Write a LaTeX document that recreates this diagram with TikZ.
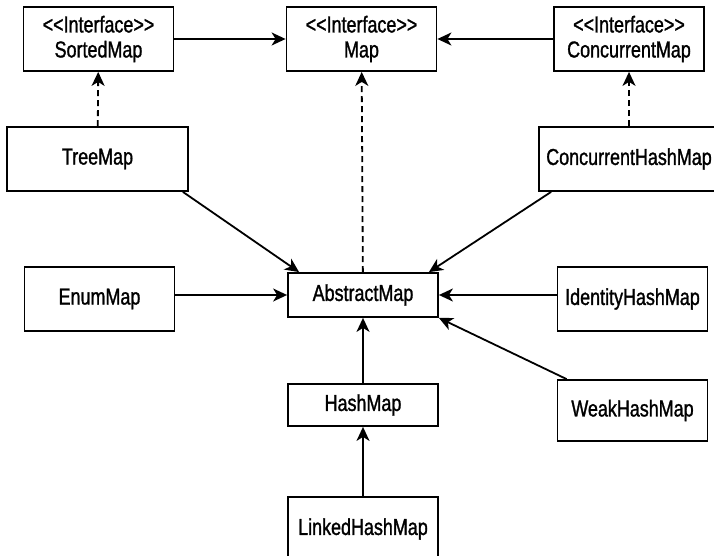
\documentclass[tikz,border=0pt]{standalone}
\usepackage{fontspec}
\setmainfont{Liberation Sans}[FakeStretch=0.78,FakeBold=1.2]
\usepackage{tikz}
\usetikzlibrary{
	arrows,arrows.meta,shapes
}
\newcommand{\iface}{<{}<Interface>{}>}
\tikzset{
	cls/.style={draw,line width=1.8pt,rectangle,inner sep=0pt,align=center,
		minimum width=150,minimum height=64,font=\fontsize{23}{25}\selectfont},
	impl/.style={dashed,dash pattern=on 6pt off 4pt}
}

\begin{document}
\begin{tikzpicture}[x=1pt,y=-1pt]
	\useasboundingbox (0,0) rectangle (714,556);
	% nodes
	\node[cls] (S) at (98.5,39) {\iface\\SortedMap};
	\node[cls] (M) at (361.5,39) {\iface\\Map};
	\node[cls] (C) at (629,39) {\iface\\ConcurrentMap};
	\node[cls,minimum width=181] (T) at (97.5,159) {TreeMap};
	\node[cls,minimum width=180] (CH) at (629,159) {ConcurrentHashMap};
	\node[cls] (E) at (99.5,299) {EnumMap};
	\node[cls,minimum height=44] (A) at (363,295) {AbstractMap};
	\node[cls] (I) at (632.5,299) {IdentityHashMap};
	\node[cls,minimum height=42] (H) at (363,405) {HashMap};
	\node[cls,minimum height=61] (W) at (632.5,410.5) {WeakHashMap};
	\node[cls] (L) at (363,529) {LinkedHashMap};
	%
	\path[->,line width=1.8pt,>={Stealth[length=14pt,width=13pt,inset=4pt]}]
	% horizontal arrows
	(S) edge (M)
	(C) edge (M)
	(E.east |- A.west) edge (A.west)
	(I.west |- A.east) edge (A.east)
	% vertical arrows
	(T) edge[impl] (S)
	(CH) edge[impl] (C)
	(A) edge[impl] (M)
	(H) edge (A)
	(L) edge (H)
	% slanted arrows
	([xshift=-6pt]T.south east) edge ([xshift=12pt]A.north west)
	([xshift=13pt]CH.south west) edge ([xshift=-10pt]A.north east)
	([xshift=10pt]W.north west) edge (A.south east);
\end{tikzpicture}
\end{document}
